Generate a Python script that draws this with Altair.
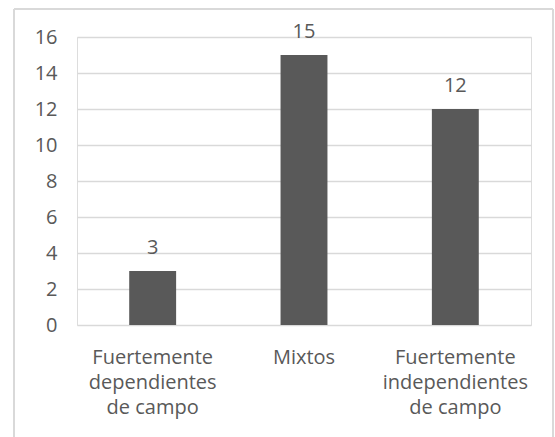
import altair as alt
import pandas as pd

# Grupos de estilo cognitivo y número de casos
categorias = ["Fuertemente|dependientes|de campo", "Mixtos", "Fuertemente|independientes|de campo"]
valores = [3, 15, 12]
ticks_y = [0, 2, 4, 6, 8, 10, 12, 14, 16]

df = pd.DataFrame({"grupo": categorias, "casos": valores})

GRIS_TEXTO = "#595959"
GRIS_BARRA = "#595959"
GRIS_LINEA = "#d9d9d9"
FUENTE = "Open Sans"

x_enc = alt.X(
    "grupo:N",
    sort=categorias,
    title=None,
    scale=alt.Scale(paddingInner=0.69, paddingOuter=0.345),
    axis=alt.Axis(
        labelExpr="split(datum.label, '|')",
        labelAngle=0,
        labelFont=FUENTE,
        labelFontSize=20,
        labelColor=GRIS_TEXTO,
        labelLineHeight=25,
        labelPadding=22,
        labelLimit=300,
        domain=False,
        ticks=False,
        grid=False,
        gridOpacity=0,
        tickOpacity=0,
    ),
)
y_enc = alt.Y(
    "casos:Q",
    title=None,
    scale=alt.Scale(domain=[0, 16], nice=False),
    axis=alt.Axis(
        values=ticks_y,
        labelOverlap=False,
        labelFont=FUENTE,
        labelFontSize=20,
        labelColor=GRIS_TEXTO,
        labelPadding=20,
        domain=False,
        ticks=False,
        grid=True,
        gridColor=GRIS_LINEA,
        gridWidth=1.5,
    ),
)

base = alt.Chart(df).encode(x=x_enc, y=y_enc)

barras = base.mark_bar(color=GRIS_BARRA, strokeWidth=0)

etiquetas = base.mark_text(
    font=FUENTE, fontSize=20, color=GRIS_TEXTO, baseline="alphabetic", dy=-17
).encode(text="casos:Q")

# Marco exterior del gráfico: borde superior, izquierdo y derecho
uno = pd.DataFrame({"k": [0]})
estilo_marco = dict(color=GRIS_LINEA, strokeWidth=2, clip=False)
borde_sup = alt.Chart(uno).mark_rule(**estilo_marco).encode(
    x=alt.value(-63), x2=alt.value(476), y=alt.value(-28)
)
borde_izq = alt.Chart(uno).mark_rule(**estilo_marco).encode(
    x=alt.value(-63), y=alt.value(-28), y2=alt.value(420)
)
borde_der = alt.Chart(uno).mark_rule(**estilo_marco).encode(
    x=alt.value(476), y=alt.value(-28), y2=alt.value(420)
)

chart = (
    alt.layer(barras, etiquetas, borde_sup, borde_izq, borde_der)
    .properties(
        width=454,
        height=288,
        autosize=alt.AutoSizeParams(type="none"),
        padding={"left": 77, "top": 37, "right": 24, "bottom": 112},
    )
    .configure_view(strokeWidth=0)
    .configure_axisBand(grid=False, ticks=False, domain=False)
    .configure_axisX(grid=False, ticks=False, domain=False)
    .configure(background="white")
)

chart.save("out.html", embed_options={"renderer": "svg", "actions": False})
